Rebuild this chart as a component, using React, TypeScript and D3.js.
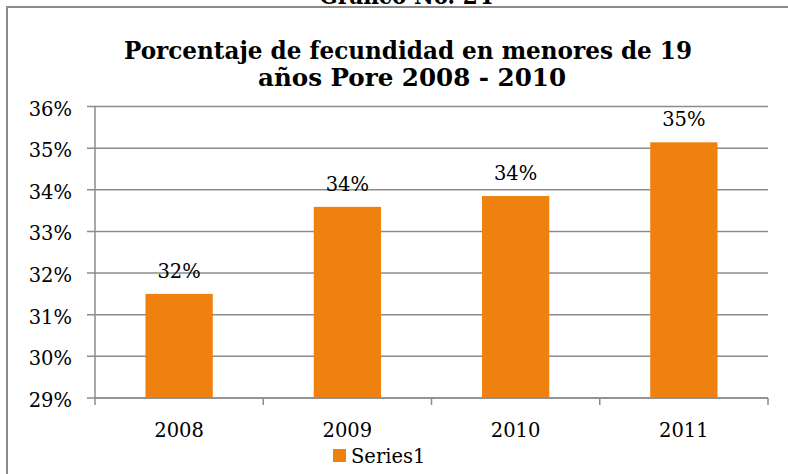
import { useEffect, useRef } from "react";
import * as d3 from "d3";

// ── Data ───────────────────────────────────────────────────────────────
const YEARS = ["2008", "2009", "2010", "2011"];
const VALUES = [31.5, 33.59, 33.85, 35.14];
const LABELS = ["32%", "34%", "34%", "35%"];
const Y_TICKS = [29, 30, 31, 32, 33, 34, 35, 36];

const W = 788;
const H = 474;
const MARGIN = { top: 106.5, right: 20, bottom: 76, left: 95 };
const BAR_COLOR = "#EF820E";
const GRID = "#8c8c8c";
const FONT = "'DejaVu Serif', serif";
const TITLE_FONT = "'DejaVu Serif Condensed', 'DejaVu Serif', serif";

export default function App() {
  const svgRef = useRef<SVGSVGElement>(null);

  useEffect(() => {
    if (!svgRef.current) return;
    const svg = d3.select(svgRef.current);
    svg.selectAll("*").remove();

    const x0 = MARGIN.left;
    const x1 = W - MARGIN.right;
    const y0 = MARGIN.top;
    const y1 = H - MARGIN.bottom;

    const x = d3.scaleBand<string>().domain(YEARS).range([x0, x1]).paddingInner(0.6).paddingOuter(0.3);
    const y = d3.scaleLinear().domain([29, 36]).range([y1, y0]);

    // ── Frame ──
    svg.append("path")
      .attr("d", `M7,${H} L7,7 L${W},7`)
      .attr("fill", "none")
      .attr("stroke", GRID)
      .attr("stroke-width", 2);

    // Caption cut off at the top
    svg.append("text")
      .attr("x", 406).attr("y", 4)
      .attr("text-anchor", "middle")
      .attr("font-family", TITLE_FONT)
      .attr("font-stretch", "condensed")
      .attr("font-weight", "bold")
      .attr("font-size", 24)
      .text("Gráfico No. 24");

    // ── Title ──
    const titleLine = (tx: number, ty: number, len: number, s: string) =>
      svg.append("text")
        .attr("x", tx).attr("y", ty)
        .attr("font-family", TITLE_FONT)
        .attr("font-stretch", "condensed")
        .attr("font-weight", "bold")
        .attr("font-size", 24)
        .attr("textLength", len)
        .attr("lengthAdjust", "spacingAndGlyphs")
        .text(s);
    titleLine(124, 59, 568, "Porcentaje de fecundidad en menores de 19");
    titleLine(258, 86, 308, "años Pore 2008 - 2010");

    // ── Grid lines ──
    svg.append("g")
      .selectAll("line")
      .data(Y_TICKS)
      .enter()
      .append("line")
      .attr("x1", x0 - 8).attr("x2", x1)
      .attr("y1", (d) => y(d)).attr("y2", (d) => y(d))
      .attr("stroke", GRID)
      .attr("stroke-width", 1.5);

    // ── Y tick labels ──
    svg.append("g")
      .selectAll("text")
      .data(Y_TICKS)
      .enter()
      .append("text")
      .attr("x", 72)
      .attr("y", (d) => y(d) + 9)
      .attr("text-anchor", "end")
      .attr("font-family", FONT)
      .attr("font-size", 19.5)
      .attr("fill", "#000")
      .text((d) => `${d}%`);

    // ── Bars ──
    svg.append("g")
      .selectAll("rect")
      .data(VALUES)
      .enter()
      .append("rect")
      .attr("x", (_, i) => x(YEARS[i])!)
      .attr("y", (d) => y(d))
      .attr("width", x.bandwidth())
      .attr("height", (d) => y1 - y(d))
      .attr("fill", BAR_COLOR);

    // ── Value labels ──
    svg.append("g")
      .selectAll("text")
      .data(VALUES)
      .enter()
      .append("text")
      .attr("x", (_, i) => x(YEARS[i])! + x.bandwidth() / 2)
      .attr("y", (d) => y(d) - 16)
      .attr("text-anchor", "middle")
      .attr("font-family", FONT)
      .attr("font-size", 19.5)
      .attr("fill", "#000")
      .text((_, i) => LABELS[i]);

    // ── Axes ──
    svg.append("line")
      .attr("x1", x0).attr("x2", x0)
      .attr("y1", y0).attr("y2", y1 + 7)
      .attr("stroke", GRID).attr("stroke-width", 1.5);
    svg.append("line")
      .attr("x1", x0).attr("x2", x1)
      .attr("y1", y1).attr("y2", y1)
      .attr("stroke", GRID).attr("stroke-width", 1.5);

    const step = x.step();
    const bounds = d3.range(YEARS.length + 1).map((i) => x0 + i * step);
    svg.append("g")
      .selectAll("line")
      .data(bounds.slice(1))
      .enter()
      .append("line")
      .attr("x1", (d) => d).attr("x2", (d) => d)
      .attr("y1", y1).attr("y2", y1 + 7)
      .attr("stroke", GRID).attr("stroke-width", 1.5);

    svg.append("g")
      .selectAll("text")
      .data(YEARS)
      .enter()
      .append("text")
      .attr("x", (d) => x(d)! + x.bandwidth() / 2)
      .attr("y", 437)
      .attr("text-anchor", "middle")
      .attr("font-family", FONT)
      .attr("font-size", 19.5)
      .attr("fill", "#000")
      .text((d) => d);

    // ── Legend ──
    svg.append("rect")
      .attr("x", 333).attr("y", 449)
      .attr("width", 13).attr("height", 13)
      .attr("fill", BAR_COLOR);
    svg.append("text")
      .attr("x", 351).attr("y", 463)
      .attr("font-family", FONT)
      .attr("font-size", 19.5)
      .attr("fill", "#000")
      .text("Series1");
  }, []);

  return (
    <svg
      ref={svgRef}
      width={W}
      height={H}
      style={{ position: "absolute", left: 0, top: 0, background: "#fff" }}
    />
  );
}
